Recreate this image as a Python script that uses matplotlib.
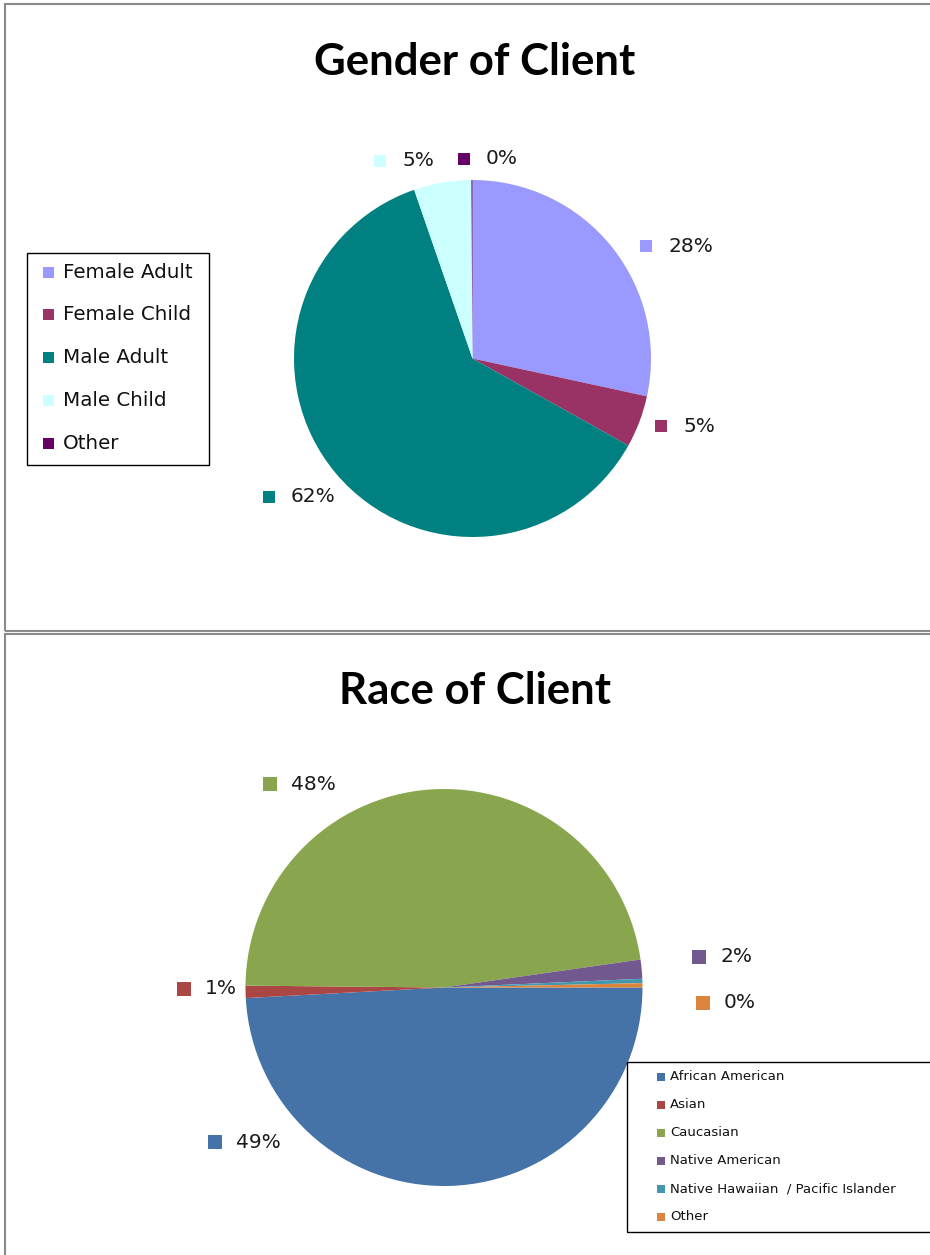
import matplotlib
matplotlib.use("Agg")
import matplotlib.pyplot as plt
from matplotlib.patches import Rectangle

# ---------------- data ----------------
gender_title = "Gender of Client"
gender_labels = ["Female Adult", "Female Child", "Male Adult", "Male Child", "Other"]
gender_values = [28.4, 4.7, 61.6, 5.2, 0.1]
gender_colors = ["#9999FF", "#993366", "#008080", "#CCFFFF", "#660066"]

race_title = "Race of Client"
race_labels = ["African American", "Asian", "Caucasian", "Native American",
               "Native Hawaiian  / Pacific Islander", "Other"]
race_values = [49.15, 1.0, 47.6, 1.55, 0.35, 0.35]
race_colors = ["#4572A7", "#AA4643", "#89A54E", "#71588F", "#4198AF", "#DB843D"]

# ---------------- layout (pixels, y measured from top) ----------------
W, H = 930, 1255
fig = plt.figure(figsize=(W / 100, H / 100), dpi=100)
ax = fig.add_axes([0, 0, 1, 1])

def Y(y):
    return H - y

label_font = "DejaVu Sans"

# panel borders
for (x0, y0, y1) in [(4.5, 3.5, 631), (4.5, 633.5, 1262)]:
    ax.add_patch(Rectangle((x0, Y(y1)), 940, y1 - y0, fill=False,
                           edgecolor="#8a8a8a", linewidth=1.5, clip_on=False))

# ---- Gender pie ----
ax.pie(gender_values, colors=gender_colors, startangle=90, counterclock=False,
       center=(472.5, Y(358.5)), radius=178.5, wedgeprops=dict(linewidth=0))
ax.text(475, Y(62), gender_title, ha="center", va="center", fontsize=31.5,
        fontweight="bold", family="Lato")

g_label_pos = [(646, 246), (661, 426), (269, 497), (380, 161), (464, 159)]
for v, c, (px, py) in zip(gender_values, gender_colors, g_label_pos):
    ax.add_patch(Rectangle((px - 6, Y(py) - 6), 12, 12, facecolor=c,
                           edgecolor="none"))
    ax.text(px + 22, Y(py), f"{v:.0f}%", ha="left", va="center",
            fontsize=14.5, family=label_font, color="#1a1a1a")

# gender legend
ax.add_patch(Rectangle((27, Y(465)), 182, 212, fill=False, edgecolor="black",
                       linewidth=1.0))
for i, (lab, c) in enumerate(zip(gender_labels, gender_colors)):
    yy = 272 + i * 42.8
    ax.add_patch(Rectangle((43, Y(yy) - 5.5), 11, 11, facecolor=c, edgecolor="none"))
    ax.text(63, Y(yy), lab, ha="left", va="center", fontsize=14.3,
            family=label_font, color="#111111")

# ---- Race pie ----
ax.pie(race_values, colors=race_colors, startangle=0, counterclock=False,
       center=(444, Y(987.5)), radius=198.5, wedgeprops=dict(linewidth=0))
ax.text(475, Y(691), race_title, ha="center", va="center", fontsize=31.5,
        fontweight="bold", family="Lato")

r_label_pos = [(215, 1142), (184, 989), (270, 784), (699, 957), None, (703, 1003)]
for v, c, pos in zip(race_values, race_colors, r_label_pos):
    if pos is None:
        continue
    px, py = pos
    ax.add_patch(Rectangle((px - 7, Y(py) - 7), 14, 14, facecolor=c,
                           edgecolor="none"))
    ax.text(px + 21, Y(py), f"{v:.0f}%", ha="left", va="center",
            fontsize=14.5, family=label_font, color="#1a1a1a")

# race legend
ax.add_patch(Rectangle((627, Y(1232)), 320, 170, fill=False, edgecolor="black",
                       linewidth=1.0, clip_on=False))
for i, (lab, c) in enumerate(zip(race_labels, race_colors)):
    yy = 1077 + i * 28
    ax.add_patch(Rectangle((657, Y(yy) - 4), 8, 8, facecolor=c, edgecolor="none"))
    ax.text(670, Y(yy), lab, ha="left", va="center", fontsize=9.5,
            family="DejaVu Sans", color="#111111")

ax.set_xlim(0, W)
ax.set_ylim(0, H)
ax.set_aspect("equal")
ax.axis("off")

fig.savefig("out.png", dpi=100)
